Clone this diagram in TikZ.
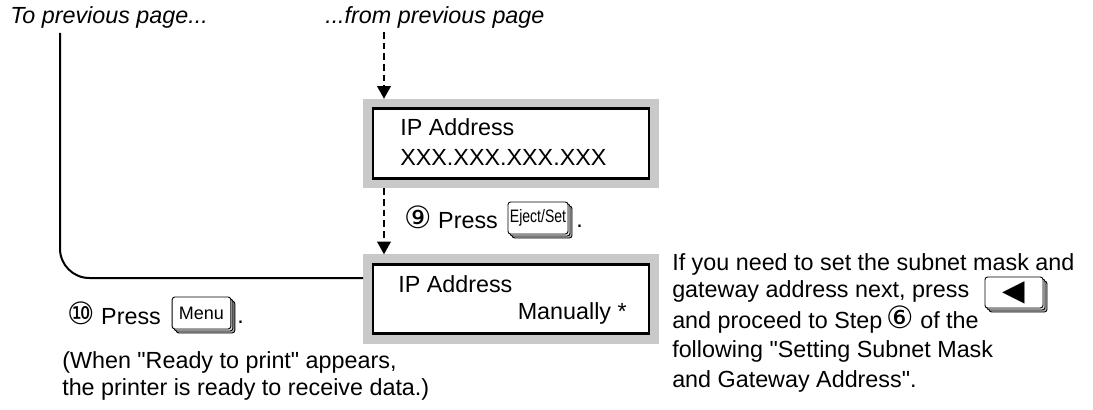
\documentclass[tikz,border=0pt]{standalone}
\usepackage{fontspec}
\setmainfont{Liberation Sans}
\newfontfamily\symfont{DejaVu Sans}
\usetikzlibrary{arrows.meta, positioning, calc, shadows}

\newcommand{\stepno}[1]{{\symfont\fontsize{23}{21}\selectfont #1}}
\newcommand{\qq}{\textquotedbl}

\tikzset{
  lcd/.style={draw, line width=2pt, fill=white, inner sep=0pt, outer sep=7.5pt,
    minimum width=207pt, minimum height=52pt,
    preaction={draw=black!21, line width=15pt}},
  keycap/.style={draw, line width=0.7pt, rounded corners=2pt, fill=white, inner sep=0pt,
    copy shadow={shadow xshift=3pt, shadow yshift=-3pt, draw, fill=black!30},
    copy shadow={shadow xshift=1.5pt, shadow yshift=-1.5pt, draw, fill=black!12}},
  flow/.style={line width=1.8pt, dash pattern=on 5pt off 3pt,
    -{Triangle[width=10pt,length=9.5pt]}},
  link/.style={line width=1.5pt, rounded corners=22pt},
  txt/.style={anchor=base west, inner sep=0pt, font=\fontsize{17.5}{21}\selectfont},
}

\begin{document}
\begin{tikzpicture}[x=0.75pt, y=-0.75pt]
  \useasboundingbox (0,0) rectangle (1093,410);

  % page references
  \node[txt, font=\fontsize{17.5}{21}\selectfont\itshape] (toprevtxt) at (10,24) {To previous page...};
  \node[txt, font=\fontsize{17.5}{21}\selectfont\itshape] (fromprevtxt) at (325,24) {...from previous page};
  \coordinate (toprev) at (60,33);
  \coordinate (fromprev) at (384,32);

  % display panels
  \node[lcd] (panelset) at (511,143.5) {};
  \node[lcd] (panelman) at (511,299) {};
  \node[txt] (ipa1) at (400,136) {IP Address};
  \node[txt] (ipval) at (400,166) {XXX.XXX.XXX.XXX};
  \node[txt] (ipa2) at (398,292) {IP Address};
  \node[txt, anchor=base east] (ipmode) at (627,319) {Manually *};

  % connectors
  \draw[flow] (fromprev) -- (fromprev |- panelset.north);
  \draw[flow] (fromprev |- panelset.south) -- (fromprev |- panelman.north);
  \draw[link] (toprev) |- ([yshift=15.75pt]panelman.west);

  % step 9
  \node[txt] (step9) at (404,228) {\stepno{⑨} Press};
  \node[keycap, minimum width=45pt, minimum height=24pt,
    font=\fontsize{13.5}{13.5}\selectfont] (ejectkey) at (538,218) {\scalebox{0.78}[1]{Eject/Set}};
  \node[txt] (dot9) at (576,227) {.};

  % step 10
  \node[txt] (step10) at (67,324) {\stepno{⑩} Press};
  \node[keycap, minimum width=44pt, minimum height=24pt,
    font=\fontsize{13.5}{13.5}\selectfont] (menukey) at (201.5,313) {Menu};
  \node[txt] (dot10) at (237,323) {.};
  \node[txt] (note1) at (62,368) {(When \qq Ready to print\qq{} appears,};
  \node[txt] (note2) at (62,395) {the printer is ready to receive data.)};

  % subnet hint
  \foreach \yy/\hint [count=\i] in {270/{If you need to set the subnet mask and},
      297/{gateway address next, press}, 328/{and proceed to Step\,\stepno{⑥} of the},
      357/{following \qq Setting Subnet Mask}, 387/{and Gateway Address\qq.}}
    \node[txt] (hint\i) at (672,\yy) {\hint};
  \node[keycap, minimum width=43.5pt, minimum height=23.25pt] (leftkey) at (1014,292.5)
    {\symfont\fontsize{22}{22}\selectfont ◀};
\end{tikzpicture}
\end{document}
